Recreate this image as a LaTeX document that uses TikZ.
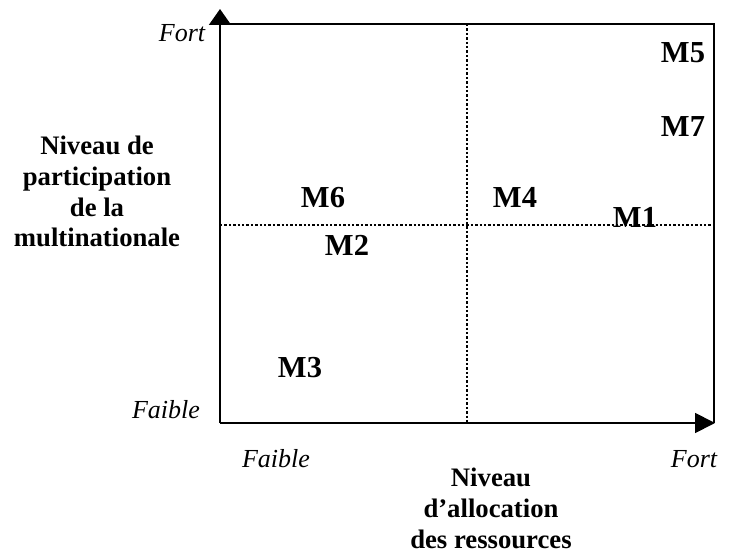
\documentclass[tikz,border=0pt]{standalone}
\usepackage{fontspec}
\setmainfont{Liberation Serif}
\usetikzlibrary{arrows.meta}
\begin{document}
\begin{tikzpicture}[x=1pt,y=-1pt,
  axis/.style={line width=1.8pt},
  grid/.style={line width=2.6pt,dash pattern=on 2.4pt off 2pt},
  tick/.style={inner sep=0pt,anchor=base,font=\fontsize{26}{30}\selectfont\itshape},
  title/.style={inner sep=0pt,anchor=base,align=center,font=\fontsize{26.7}{30.7}\selectfont\bfseries},
  mlab/.style={inner sep=0pt,anchor=base,font=\fontsize{30.5}{34}\selectfont\bfseries}]
\useasboundingbox (0,0) rectangle (734,556);
% frame coordinates
\coordinate (O) at (220,423);
\coordinate (Ytip) at (220,9);
\coordinate (Xtip) at (715,423);
\coordinate (TL) at (220,24);
\coordinate (TR) at (714,24);
\coordinate (BR) at (714,423);
\coordinate (VT) at (467,24);
\coordinate (VB) at (467,423);
\coordinate (HL) at (220,225);
\coordinate (HR) at (714,225);
% dotted quadrant lines
\draw[grid] (VT) -- (VB);
\draw[grid] (HL) -- (HR);
% frame
\draw[axis] (TL) -- (TR) -- (BR);
\draw[axis,-{Triangle[length=16pt,width=22pt]}] (O) -- (Ytip);
\draw[axis,-{Triangle[length=20pt,width=20pt]}] (O) -- (Xtip);
% axis tick labels
\node[tick] (yfort) at (182,42) {Fort};
\node[tick] (yfaible) at (166,418) {Faible};
\node[tick] (xfaible) at (276,467) {Faible};
\node[tick] (xfort) at (694,467) {Fort};
% axis titles
\node[title] (ytitle) at (97,247) {Niveau de\\participation\\de la\\multinationale};
\node[title] (xtitle) at (491,548) {Niveau\\d’allocation\\des ressources};
% M labels
\node[mlab] (m5) at (683,63) {M5};
\node[mlab] (m7) at (683,137) {M7};
\node[mlab] (m6) at (323,208) {M6};
\node[mlab] (m4) at (515,208) {M4};
\node[mlab] (m1) at (635,228) {M1};
\node[mlab] (m2) at (347,256) {M2};
\node[mlab] (m3) at (300,377) {M3};
\end{tikzpicture}
\end{document}
